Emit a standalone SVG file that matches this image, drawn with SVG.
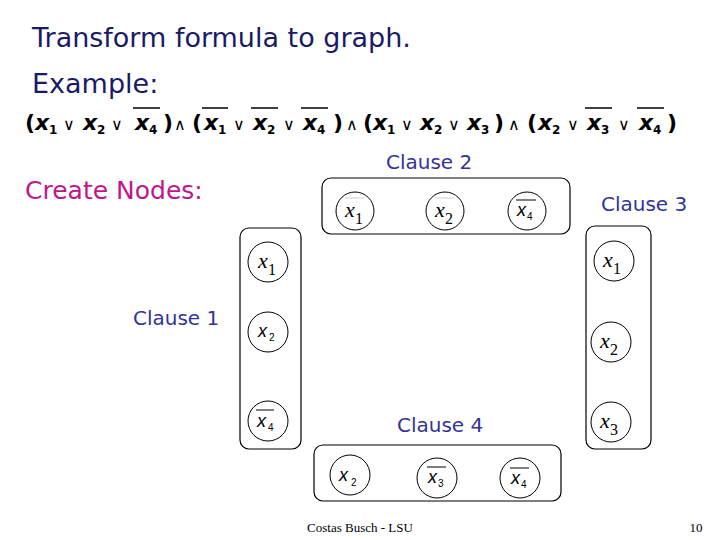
<svg xmlns="http://www.w3.org/2000/svg" width="720" height="540" viewBox="0 0 720 540">
<style>
.t{font-family:"DejaVu Sans",sans-serif;fill:#1a1a66}
.cl{font-family:"DejaVu Sans",sans-serif;fill:#333399;font-size:20px}
.f{font-family:"DejaVu Sans",sans-serif;font-size:22px;font-weight:bold;fill:#000}
.fs{font-family:"DejaVu Sans",sans-serif;font-size:12px;font-weight:bold;fill:#000}
.op{font-family:"DejaVu Sans",sans-serif;font-size:16px;fill:#000}
.ol{stroke:#000;stroke-width:1.5}
.box{fill:none;stroke:#000;stroke-width:1.2}
.n{fill:#fff;stroke:#000;stroke-width:1}
.ser{font-family:"Liberation Serif",serif;font-style:italic;font-size:22px;fill:#000}
.sers{font-family:"Liberation Serif",serif;font-size:16px;fill:#000}
.sa{font-family:"Liberation Sans",sans-serif;font-style:italic;font-size:18px;fill:#000}
.sas{font-family:"Liberation Sans",sans-serif;font-size:10px;fill:#000}
.nol{stroke:#000;stroke-width:1}
</style>
<text class="t" x="32" y="47" font-size="27">Transform formula to graph.</text>
<text class="t" x="32" y="93" font-size="27">Example:</text>
<g id="formula">
<text class="f" x="25" y="130">(</text><text class="f" x="35" y="130" font-style="italic">x</text><text class="fs" x="49" y="134">1</text><text class="op" x="63" y="130">∨</text>
<text class="f" x="83" y="130" font-style="italic">x</text><text class="fs" x="97" y="134">2</text><text class="op" x="111" y="130">∨</text>
<text class="f" x="135" y="130" font-style="italic">x</text><text class="fs" x="149" y="134">4</text><line class="ol" x1="133" y1="108" x2="160" y2="108"/><text class="f" x="163" y="130">)</text>
<text class="op" x="174" y="130">∧</text>
<text class="f" x="192" y="130">(</text><text class="f" x="204" y="130" font-style="italic">x</text><text class="fs" x="218" y="134">1</text><line class="ol" x1="202" y1="108" x2="228" y2="108"/><text class="op" x="233" y="130">∨</text>
<text class="f" x="253" y="130" font-style="italic">x</text><text class="fs" x="267" y="134">2</text><line class="ol" x1="251" y1="108" x2="278" y2="108"/><text class="op" x="283" y="130">∨</text>
<text class="f" x="303" y="130" font-style="italic">x</text><text class="fs" x="317" y="134">4</text><line class="ol" x1="301" y1="108" x2="328" y2="108"/><text class="f" x="333" y="130">)</text>
<text class="op" x="346" y="130">∧</text>
<text class="f" x="363" y="130">(</text><text class="f" x="373" y="130" font-style="italic">x</text><text class="fs" x="387" y="134">1</text><text class="op" x="401" y="130">∨</text>
<text class="f" x="420" y="130" font-style="italic">x</text><text class="fs" x="434" y="134">2</text><text class="op" x="448" y="130">∨</text>
<text class="f" x="467" y="130" font-style="italic">x</text><text class="fs" x="481" y="134">3</text><text class="f" x="494" y="130">)</text>
<text class="op" x="508" y="130">∧</text>
<text class="f" x="527" y="130">(</text><text class="f" x="538" y="130" font-style="italic">x</text><text class="fs" x="552" y="134">2</text><text class="op" x="567" y="130">∨</text>
<text class="f" x="587" y="130" font-style="italic">x</text><text class="fs" x="601" y="134">3</text><line class="ol" x1="585" y1="108" x2="612" y2="108"/><text class="op" x="618" y="130">∨</text>
<text class="f" x="639" y="130" font-style="italic">x</text><text class="fs" x="653" y="134">4</text><line class="ol" x1="637" y1="108" x2="664" y2="108"/><text class="f" x="667" y="130">)</text>
</g>
<text x="25" y="199" font-family="DejaVu Sans,sans-serif" font-size="25" fill="#c0168c">Create Nodes:</text>
<text class="cl" x="386" y="169">Clause 2</text>
<text class="cl" x="601" y="211">Clause 3</text>
<text class="cl" x="133" y="325">Clause 1</text>
<text class="cl" x="397" y="432">Clause 4</text>
<g id="clause1">
<rect class="box" x="240" y="228" width="61" height="221" rx="9"/>
<circle class="n" cx="268" cy="262" r="20"/><text class="ser" x="258" y="268">x</text><text class="sers" x="268" y="275">1</text>
<circle class="n" cx="268" cy="332" r="20"/><text class="sa" x="258" y="337">x</text><text class="sas" x="269" y="341">2</text>
<circle class="n" cx="268" cy="421" r="20"/><text class="sa" x="257" y="427">x</text><text class="sas" x="268" y="431">4</text><line class="nol" x1="256" y1="410" x2="274" y2="410"/>
</g>
<g id="clause2">
<rect class="box" x="322" y="178" width="248" height="56" rx="9"/>
<circle class="n" cx="355" cy="211" r="19"/><text class="ser" x="345" y="217">x</text><text class="sers" x="355" y="224">1</text><line x1="345" y1="198" x2="364" y2="198" stroke="#ccc"/>
<circle class="n" cx="445" cy="211" r="19"/><text class="ser" x="435" y="217">x</text><text class="sers" x="445" y="224">2</text><line x1="435" y1="198" x2="454" y2="198" stroke="#ccc"/>
<circle class="n" cx="527" cy="211" r="19"/><text class="sa" x="517" y="216">x</text><text class="sas" x="527" y="220">4</text><line class="nol" x1="516" y1="200" x2="536" y2="200"/>
</g>
<g id="clause3">
<rect class="box" x="586" y="226" width="65" height="223" rx="9"/>
<circle class="n" cx="614" cy="261" r="20"/><text class="ser" x="603" y="267">x</text><text class="sers" x="613" y="274">1</text>
<circle class="n" cx="611" cy="342" r="20"/><text class="ser" x="600" y="348">x</text><text class="sers" x="610" y="355">2</text>
<circle class="n" cx="611" cy="422" r="20"/><text class="ser" x="600" y="428">x</text><text class="sers" x="610" y="435">3</text>
</g>
<g id="clause4">
<rect class="box" x="314" y="445" width="247" height="56" rx="9"/>
<circle class="n" cx="350" cy="475" r="20"/><text class="sa" x="339" y="481" font-size="21">x</text><text class="sas" x="351" y="486" font-size="12">2</text>
<circle class="n" cx="437" cy="478" r="20"/><text class="sa" x="428" y="483">x</text><text class="sas" x="438" y="487">3</text><line class="nol" x1="427" y1="467" x2="446" y2="467"/>
<circle class="n" cx="520" cy="478" r="20"/><text class="sa" x="511" y="484">x</text><text class="sas" x="521" y="488">4</text><line class="nol" x1="510" y1="468" x2="529" y2="468"/>
</g>
<g id="connectors"/>
<text x="360" y="532" text-anchor="middle" font-family="Liberation Serif,serif" font-size="13">Costas Busch - LSU</text>
<text x="696" y="532" text-anchor="middle" font-family="Liberation Serif,serif" font-size="13">10</text>
</svg>
